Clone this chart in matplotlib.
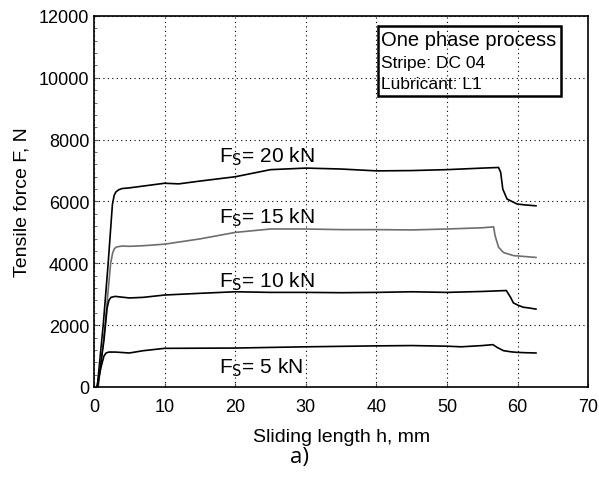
import numpy as np
import matplotlib.pyplot as plt
from matplotlib.ticker import MultipleLocator

plt.rcParams['font.family'] = ['Liberation Sans', 'DejaVu Sans']

# sliding length h [mm] and tensile force F [N] for each clamping force
h20 = [0.45, 1.3, 2.0, 2.6, 2.85, 3.1, 3.5, 4.0, 5, 7, 10, 12, 15, 20, 25, 30, 35, 40, 45, 50, 55, 57.3,
       57.6, 57.9, 58.5, 59.9, 61.0, 62.6]
f20 = [0, 2000, 4000, 5900, 6200, 6310, 6380, 6420, 6440, 6500, 6590, 6570, 6660, 6800, 7030, 7080, 7050,
       6990, 7000, 7030, 7080, 7100, 6940, 6400, 6080, 5920, 5890, 5860]

h15 = [0.6, 1.55, 2.35, 2.65, 2.9, 3.2, 4.0, 5, 7, 10, 15, 20, 25, 30, 35, 40, 45, 50, 55, 56.6,
       56.8, 57.3, 58.0, 59.4, 61.0, 62.6]
f15 = [0, 2000, 4000, 4350, 4480, 4530, 4560, 4550, 4570, 4620, 4790, 5000, 5110, 5110, 5090, 5090,
       5080, 5110, 5150, 5180, 4900, 4520, 4350, 4250, 4220, 4190]

h10 = [0.5, 1.4, 1.85, 2.1, 2.4, 3, 5, 7, 10, 15, 20, 25, 30, 35, 40, 45, 50, 55, 58.4,
       59.0, 59.4, 60.1, 60.8, 61.5, 62.6]
f10 = [0, 1500, 2550, 2800, 2900, 2930, 2880, 2900, 2975, 3030, 3080, 3060, 3060, 3050, 3060, 3080,
       3060, 3090, 3120, 2900, 2720, 2640, 2580, 2560, 2520]

h5 = [0.4, 1.0, 1.4, 1.7, 2.1, 3, 5, 7, 10, 20, 30, 40, 45, 50, 52, 55, 56.5,
      57.1, 58.0, 59.0, 59.9, 61.0, 62.6]
f5 = [0, 650, 1000, 1100, 1130, 1130, 1100, 1175, 1250, 1260, 1300, 1330, 1340, 1320, 1300, 1340, 1370,
      1280, 1175, 1140, 1120, 1110, 1100]

labels = ['F$_\\mathrm{S}$= 20 kN', 'F$_\\mathrm{S}$= 15 kN', 'F$_\\mathrm{S}$= 10 kN', 'F$_\\mathrm{S}$= 5 kN']
label_y = [7470, 5500, 3430, 650]

fig = plt.figure(figsize=(5.99, 4.85), dpi=100)
ax = fig.add_axes([0.157, 0.2, 0.825, 0.765])

ax.plot(h20, f20, color='black', lw=1.2)
ax.plot(h15, f15, color='#6e6e6e', lw=1.2)
ax.plot(h10, f10, color='black', lw=1.2)
ax.plot(h5, f5, color='black', lw=1.2)

for lab, yy in zip(labels, label_y):
    ax.text(17.7, yy, lab, fontsize=15, va='center', ha='left')

ax.set_xlim(0, 70)
ax.set_ylim(0, 12000)
ax.xaxis.set_major_locator(MultipleLocator(10))
ax.yaxis.set_major_locator(MultipleLocator(2000))
ax.yaxis.set_minor_locator(MultipleLocator(400))
ax.tick_params(direction='in', labelsize=13, length=3, color='#555555')
ax.tick_params(which='minor', direction='in', length=2, color='#555555')
ax.tick_params(axis='x', pad=8)
ax.grid(True, which='major', color='black', linestyle=(0, (1, 3)), lw=0.8)
for s in ax.spines.values():
    s.set_linewidth(1.2)

ax.set_xlabel('Sliding length h, mm', fontsize=14, labelpad=9)
ax.set_ylabel('Tensile force F, N', fontsize=14, labelpad=6)

ax.text(40.6, 11255, 'One phase process', fontsize=14.5, va='center', ha='left')
ax.text(40.6, 10510, 'Stripe: DC 04', fontsize=12.5, va='center', ha='left')
ax.text(40.6, 9830, 'Lubricant: L1', fontsize=12.5, va='center', ha='left')
ax.add_patch(plt.Rectangle((40.25, 9410), 25.95, 2265, fill=False, lw=1.8, ec='black'))

fig.text(0.5, 0.056, 'a)', fontsize=16, ha='center', va='center', family=['Open Sans', 'DejaVu Sans'])

fig.savefig('out.png', dpi=100)
